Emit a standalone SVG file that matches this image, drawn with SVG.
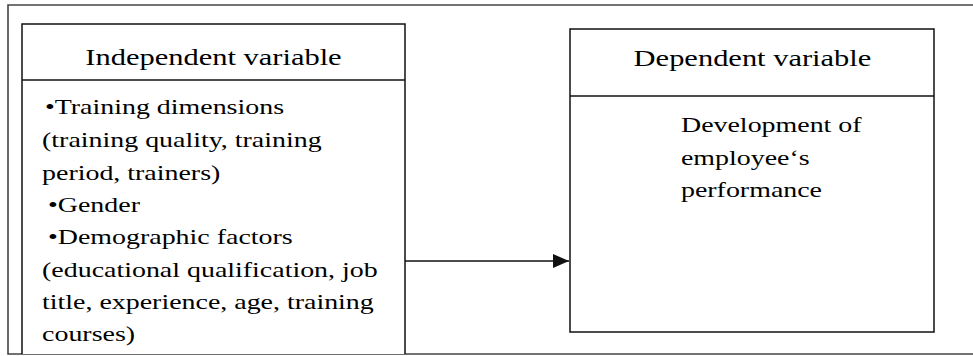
<svg xmlns="http://www.w3.org/2000/svg" width="973" height="356" viewBox="0 0 973 356">
  <style>
    .frame { fill: none; stroke: #444; stroke-width: 1.6; }
    .box { fill: #fff; stroke: #111; stroke-width: 1.5; }
    .div { stroke: #111; stroke-width: 1.5; }
    .head { font-size: 24px; fill: #000; text-anchor: middle; }
    .body { font-size: 22px; fill: #000; }
    .conn { stroke: #111; stroke-width: 1.5; fill: none; }
  </style>
  <defs>
    <marker id="arrow" markerWidth="16" markerHeight="14" refX="16" refY="7" orient="auto" markerUnits="userSpaceOnUse">
      <path d="M0,0 L16,7 L0,14 Z" fill="#111"/>
    </marker>
  </defs>
  <rect width="973" height="356" fill="#fff"/>
  <path class="frame" d="M975,5 H8 V354 H975"/>

  <g id="independent">
    <path class="box" d="M22,354 V24 H405 V354"/>
    <line class="div" x1="22" y1="80" x2="405" y2="80"/>
    <g transform="scale(1.27,1)" font-family="Liberation Serif, DejaVu Serif, Times New Roman, Times, serif">
      <text class="head" x="168.1" y="65.5">Independent variable</text>
      <text class="body" x="35.4" y="114.5">•Training dimensions</text>
      <text class="body" x="33.1" y="147">(training quality, training</text>
      <text class="body" x="33.1" y="180">period, trainers)</text>
      <text class="body" x="37.8" y="212.5">•Gender</text>
      <text class="body" x="37.8" y="244">•Demographic factors</text>
      <text class="body" x="33.1" y="277">(educational qualification, job</text>
      <text class="body" x="33.1" y="309.5">title, experience, age, training</text>
      <text class="body" x="33.1" y="341">courses)</text>
    </g>
  </g>

  <g id="dependent">
    <rect class="box" x="570" y="29" width="364" height="303"/>
    <line class="div" x1="570" y1="96" x2="934" y2="96"/>
    <g transform="scale(1.27,1)" font-family="Liberation Serif, DejaVu Serif, Times New Roman, Times, serif">
      <text class="head" x="592.5" y="66.5">Dependent variable</text>
      <text class="body" x="536.2" y="132">Development of</text>
      <text class="body" x="536.2" y="165">employee‘s</text>
      <text class="body" x="536.2" y="197">performance</text>
    </g>
  </g>

  <g id="connectors">
    <line class="conn" x1="405" y1="261" x2="569" y2="261" marker-end="url(#arrow)"/>
  </g>
</svg>
